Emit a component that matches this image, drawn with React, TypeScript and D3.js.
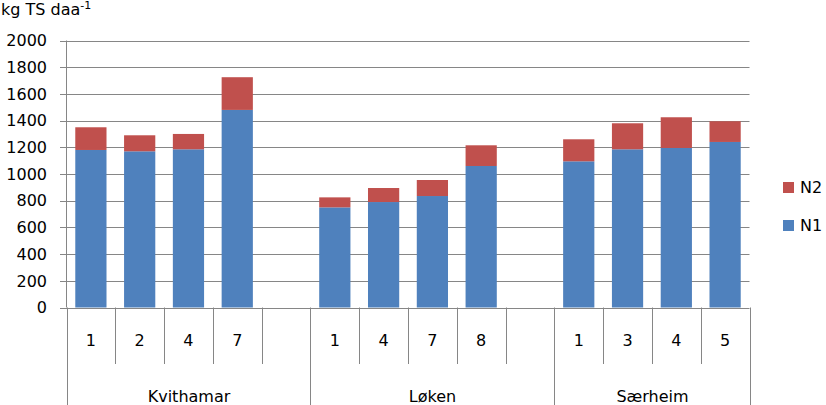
import * as d3 from 'd3'

const slotLabels = ['1', '2', '4', '7', '', '1', '4', '7', '8', '', '1', '3', '4', '5']
const groupNames = ['Kvithamar', 'Løken', 'Særheim']
const groupStarts = [0, 5, 10, 14]
const n1 = [1180, 1170, 1185, 1480, null, 750, 790, 835, 1060, null, 1095, 1185, 1195, 1240]
const n2 = [170, 120, 115, 245, null, 75, 105, 120, 155, null, 165, 195, 230, 155]
const yTicks = [0, 200, 400, 600, 800, 1000, 1200, 1400, 1600, 1800, 2000]

const W = 826
const H = 405
const left = 66.5
const right = 749.5
const top = 40.5
const bottom = 307.5
const BLUE = '#4F81BD'
const RED = '#C0504D'
const GRID = '#868686'
const FONT = '"DejaVu Sans", sans-serif'

export default function App() {
  const x = d3.scaleBand<number>().domain(d3.range(slotLabels.length)).range([left, right]).padding(0)
  const y = d3.scaleLinear().domain([0, 2000]).range([bottom, top])
  const bw = x.bandwidth() * 0.64
  const edge = (i: number) => Math.round(left + i * x.step()) + 0.5

  return (
    <svg width={W} height={H} style={{ position: 'absolute', left: 0, top: 0, fontFamily: FONT }}>
      <text x={1} y={15} fontSize={16} fill="#000">
        kg TS daa<tspan fontSize={11} dy={-6}>-1</tspan>
      </text>
      {yTicks.map((t) => (
        <g key={t}>
          <line x1={60} x2={right} y1={Math.round(y(t)) + 0.5} y2={Math.round(y(t)) + 0.5} stroke={GRID} />
          <text x={47} y={y(t)} dy="0.36em" textAnchor="end" fontSize={16} fill="#000">
            {t}
          </text>
        </g>
      ))}
      <line x1={left} x2={left} y1={top} y2={bottom} stroke={GRID} />
      {slotLabels.map((lab, i) => {
        if (n1[i] == null) return null
        const cx = (x(i) as number) + x.bandwidth() / 2
        const base = y(0)
        const y1 = y(n1[i] as number)
        const y2 = y((n1[i] as number) + (n2[i] as number))
        return (
          <g key={i}>
            <rect x={cx - bw / 2} y={y1} width={bw} height={base - y1} fill={BLUE} />
            <rect x={cx - bw / 2} y={y2} width={bw} height={y1 - y2} fill={RED} />
          </g>
        )
      })}
      {d3.range(slotLabels.length + 1).map((i) => (
        <line
          key={'e' + i}
          x1={edge(i)}
          x2={edge(i)}
          y1={bottom}
          y2={groupStarts.includes(i) ? H : 364}
          stroke={GRID}
        />
      ))}
      {slotLabels.map((lab, i) => (
        <text
          key={'l' + i}
          x={(x(i) as number) + x.bandwidth() / 2}
          y={340}
          dy="0.36em"
          textAnchor="middle"
          fontSize={16}
          fill="#000"
        >
          {lab}
        </text>
      ))}
      {groupNames.map((g, gi) => (
        <text
          key={g}
          x={(edge(groupStarts[gi]) + edge(groupStarts[gi + 1])) / 2}
          y={402}
          textAnchor="middle"
          fontSize={16}
          fill="#000"
        >
          {g}
        </text>
      ))}
      {[
        { name: 'N2', color: RED, yy: 182 },
        { name: 'N1', color: BLUE, yy: 220 },
      ].map((d) => (
        <g key={d.name}>
          <rect x={783} y={d.yy} width={11} height={11} fill={d.color} />
          <text x={800} y={d.yy + 5.5} dy="0.36em" fontSize={16} fill="#000">
            {d.name}
          </text>
        </g>
      ))}
    </svg>
  )
}
